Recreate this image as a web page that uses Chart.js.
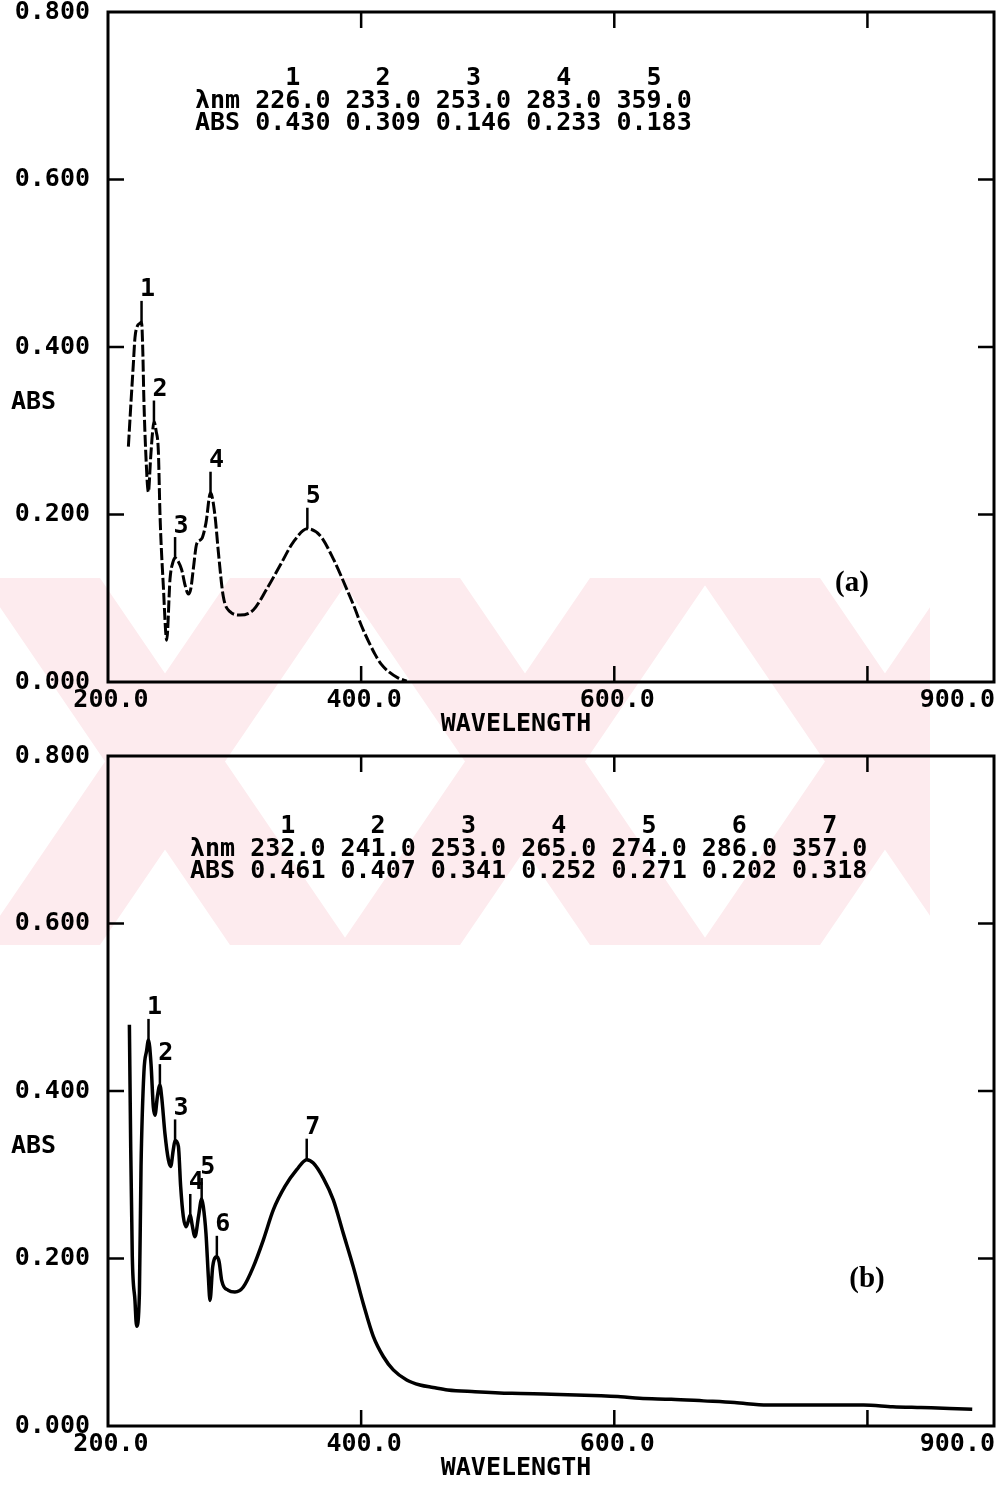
<!DOCTYPE html>
<html lang="en">
<head>
<meta charset="UTF-8">
<title>UV-Vis spectra (a) and (b)</title>
<style>
  body { margin: 0; background: #fff; }
  #page { position: relative; width: 1001px; height: 1487px; }
  #page canvas { position: absolute; left: 0; }
  #bg { top: 0; z-index: 0; }
  #chartA { top: 0; z-index: 1; }
  #chartB { top: 744px; z-index: 1; }
</style>
</head>
<body>
<div id="page">
  <canvas id="bg" width="1001" height="1487"></canvas>
  <canvas id="chartA" width="1001" height="744"></canvas>
  <canvas id="chartB" width="1001" height="744"></canvas>
</div>

<script src="https://cdn.jsdelivr.net/npm/chart.js"></script>
<script>
// spectrum (a)
const wavelengthA = [216.1, 218.0, 220.0, 221.3, 223.2, 225.0, 226.5, 227.5, 228.3, 229.8, 231.9, 233.7, 235.3, 236.3,
  238.0, 239.8, 241.1, 243.7, 246.4, 249.0, 251.3, 253.0, 255.5, 258.2, 261.0, 263.5, 265.5, 267.4, 270.1, 274.0,
  277.4, 281.0, 284.5, 287.2, 291.1, 296.4, 304.3, 314.8, 325.4, 335.9, 346.4, 357.5, 367.5, 378.0, 388.6, 395.0,
  400.0, 406.0, 411.0, 416.0, 422.0, 429.0, 436.0];
const absA = [0.281, 0.330, 0.379, 0.411, 0.425, 0.428, 0.430, 0.395, 0.340, 0.275, 0.227, 0.268, 0.300, 0.311,
  0.300, 0.275, 0.199, 0.115, 0.050, 0.123, 0.143, 0.148, 0.144, 0.134, 0.115, 0.105, 0.112, 0.135, 0.165, 0.171,
  0.190, 0.226, 0.199, 0.155, 0.102, 0.084, 0.080, 0.086, 0.111, 0.139, 0.167, 0.183, 0.175, 0.147, 0.111, 0.088,
  0.068, 0.048, 0.033, 0.021, 0.012, 0.005, 0.001];

// spectrum (b)
const wavelengthB = [216.9, 217.9, 219.2, 221.3, 222.6, 224.8, 226.1, 228.4, 230.5, 232.0, 234.0, 235.8, 237.1, 239.0,
  241.0, 242.4, 245.0, 247.7, 249.5, 251.6, 253.0, 255.6, 257.4, 259.5, 261.6, 263.5, 265.0, 266.5, 268.7, 271.5,
  274.0, 275.3, 277.4, 279.3, 280.6, 282.7, 286.0, 287.8, 289.8, 295.1, 300.3, 306.9, 314.8, 322.7, 330.6, 339.8,
  349.1, 357.0, 362.2, 370.1, 378.0, 385.9, 393.8, 401.7, 409.6, 417.5, 425.4, 436.0, 446.5, 457.0, 468.4, 490.0,
  519.0, 550.0, 589.7, 605.0, 620.0, 645.0, 670.5, 695.0, 721.1, 760.0, 796.9, 820.0, 842.3, 865.0, 882.8];
const absB = [0.479, 0.338, 0.202, 0.150, 0.119, 0.158, 0.310, 0.423, 0.448, 0.461, 0.432, 0.381, 0.371, 0.393,
  0.407, 0.393, 0.349, 0.318, 0.310, 0.330, 0.341, 0.334, 0.286, 0.250, 0.238, 0.245, 0.252, 0.240, 0.226, 0.250,
  0.271, 0.262, 0.230, 0.178, 0.150, 0.190, 0.202, 0.196, 0.174, 0.162, 0.160, 0.166, 0.190, 0.222, 0.258, 0.286,
  0.306, 0.318, 0.314, 0.296, 0.270, 0.230, 0.190, 0.146, 0.107, 0.083, 0.067, 0.055, 0.049, 0.046, 0.043, 0.041,
  0.039, 0.038, 0.036, 0.035, 0.033, 0.032, 0.030, 0.028, 0.025, 0.025, 0.025, 0.023, 0.022, 0.021, 0.020];

// peak tables printed in the plots
const tableNmA = [226.0, 233.0, 253.0, 283.0, 359.0];
const tableAbsA = [0.430, 0.309, 0.146, 0.233, 0.183];
const tableNmB = [232.0, 241.0, 253.0, 265.0, 274.0, 286.0, 357.0];
const tableAbsB = [0.461, 0.407, 0.341, 0.252, 0.271, 0.202, 0.318];

// where the numbered peak markers sit on the traces
const markerNmA = [226.5, 236.3, 253.0, 281.0, 357.5];
const markerAbsA = [0.430, 0.311, 0.148, 0.226, 0.183];
const markerNmB = tableNmB;
const markerAbsB = tableAbsB;

// axes
const xTickValues = [200, 400, 600, 800, 900];
const xTickLabels = ['200.0', '400.0', '600.0', '', '900.0'];
const innerXTicks = [400, 600, 800];
const innerYTicks = [0.2, 0.4, 0.6];

const MONO = '"DejaVu Sans Mono", monospace';
const FONT = 'bold 25px ' + MONO;

// pale watermark behind both plots
(function drawWatermark() {
  const c = document.getElementById('bg').getContext('2d');
  c.fillStyle = '#fff';
  c.fillRect(0, 0, 1001, 1487);
  const top = 578, bottom = 945, dx = 250, t = 120;
  c.save();
  c.beginPath();
  c.rect(0, top, 930, bottom - top);
  c.clip();
  c.fillStyle = '#fdebee';
  c.beginPath();
  [-20, 340, 700].forEach(x0 => {
    c.moveTo(x0, top); c.lineTo(x0 + t, top); c.lineTo(x0 + t + dx, bottom); c.lineTo(x0 + dx, bottom); c.closePath();
    c.moveTo(x0 + dx, top); c.lineTo(x0 + dx + t, top); c.lineTo(x0 + t, bottom); c.lineTo(x0, bottom); c.closePath();
  });
  c.fill('nonzero');
  c.restore();
})();

const framePlugin = {
  id: 'frame',
  afterDatasetsDraw(chart, args, opts) {
    const { ctx, chartArea: a, scales: { x, y } } = chart;
    ctx.save();
    ctx.strokeStyle = '#000';
    ctx.fillStyle = '#000';
    ctx.lineWidth = 3;
    ctx.strokeRect(a.left, a.top, a.right - a.left, a.bottom - a.top);

    // inward ticks on all four sides
    ctx.lineWidth = 2.5;
    ctx.beginPath();
    innerYTicks.forEach(v => {
      const py = y.getPixelForValue(v);
      ctx.moveTo(a.left, py); ctx.lineTo(a.left + 16, py);
      ctx.moveTo(a.right, py); ctx.lineTo(a.right - 16, py);
    });
    innerXTicks.forEach(v => {
      const px = x.getPixelForValue(v);
      ctx.moveTo(px, a.bottom); ctx.lineTo(px, a.bottom - 16);
      ctx.moveTo(px, a.top); ctx.lineTo(px, a.top + 16);
    });
    ctx.stroke();

    ctx.font = FONT;
    ctx.textBaseline = 'middle';
    xTickValues.forEach((v, i) => {
      const px = x.getPixelForValue(v);
      ctx.textAlign = i === xTickValues.length - 1 ? 'right' : 'center';
      ctx.fillText(xTickLabels[i], i === xTickValues.length - 1 ? px + 1 : px + 3, a.bottom + 18);
    });
    ctx.textAlign = 'center';
    ctx.fillText('WAVELENGTH', 516, a.bottom + 42);
    ctx.textAlign = 'left';
    ctx.fillText('ABS', 11, 402);

    // numbered peak markers
    ctx.lineWidth = 2.5;
    ctx.textAlign = 'center';
    opts.markerNm.forEach((nm, i) => {
      const px = x.getPixelForValue(nm);
      const py = y.getPixelForValue(opts.markerAbs[i]);
      ctx.beginPath();
      ctx.moveTo(px, py); ctx.lineTo(px, py - 21);
      ctx.stroke();
      ctx.fillText(String(i + 1), px + 6, py - 32);
    });

    // peak table
    const cw = ctx.measureText('0').width;
    const x0 = opts.headerX;
    ctx.textAlign = 'left';
    ctx.fillText('\u03bbnm ' + opts.tableNm.map(v => v.toFixed(1)).join(' '), x0, opts.headerY + 23);
    ctx.fillText('ABS ' + opts.tableAbs.map(v => v.toFixed(3)).join(' '), x0, opts.headerY + 45);
    ctx.textAlign = 'center';
    opts.tableNm.forEach((v, i) => {
      ctx.fillText(String(i + 1), x0 + (4 + i * 6 + 2.5) * cw, opts.headerY);
    });

    // panel letter
    ctx.font = 'bold 29px "Liberation Serif", serif';
    ctx.fillText(opts.letter, opts.letterX, opts.letterY);
    ctx.restore();
  }
};

function makeChart(id, xs, ys, dash, width, extra) {
  return new Chart(document.getElementById(id), {
    type: 'line',
    data: {
      datasets: [{
        data: xs.map((v, i) => ({ x: v, y: ys[i] })),
        borderColor: '#000',
        borderWidth: width,
        borderDash: dash,
        pointRadius: 0,
        fill: false,
        cubicInterpolationMode: 'monotone'
      }]
    },
    options: {
      responsive: false,
      animation: false,
      events: [],
      layout: { autoPadding: false, padding: { top: 12, right: 7, left: 0, bottom: 0 } },
      plugins: { legend: { display: false }, tooltip: { enabled: false }, frame: extra },
      scales: {
        x: {
          type: 'linear', min: 200, max: 900,
          grid: { display: false, drawTicks: false },
          border: { display: false },
          ticks: { display: false },
          afterFit: s => { s.height = 62; s.paddingLeft = 0; s.paddingRight = 0; }
        },
        y: {
          min: 0, max: 0.8,
          grid: { display: false, drawTicks: false },
          border: { display: false },
          ticks: {
            stepSize: 0.2,
            padding: 18,
            color: '#000',
            font: { family: MONO, size: 25, weight: 'bold' },
            callback: v => Number(v).toFixed(3)
          },
          afterFit: s => { s.width = 108; s.paddingTop = 0; s.paddingBottom = 0; }
        }
      }
    },
    plugins: [framePlugin]
  });
}

makeChart('chartA', wavelengthA, absA, [12, 3], 3, {
  markerNm: markerNmA, markerAbs: markerAbsA,
  tableNm: tableNmA, tableAbs: tableAbsA,
  headerX: 195, headerY: 78,
  letter: '(a)', letterX: 852, letterY: 584
});
makeChart('chartB', wavelengthB, absB, [], 3.5, {
  markerNm: markerNmB, markerAbs: markerAbsB,
  tableNm: tableNmB, tableAbs: tableAbsB,
  headerX: 190, headerY: 82,
  letter: '(b)', letterX: 867, letterY: 536
});
</script>
</body>
</html>
